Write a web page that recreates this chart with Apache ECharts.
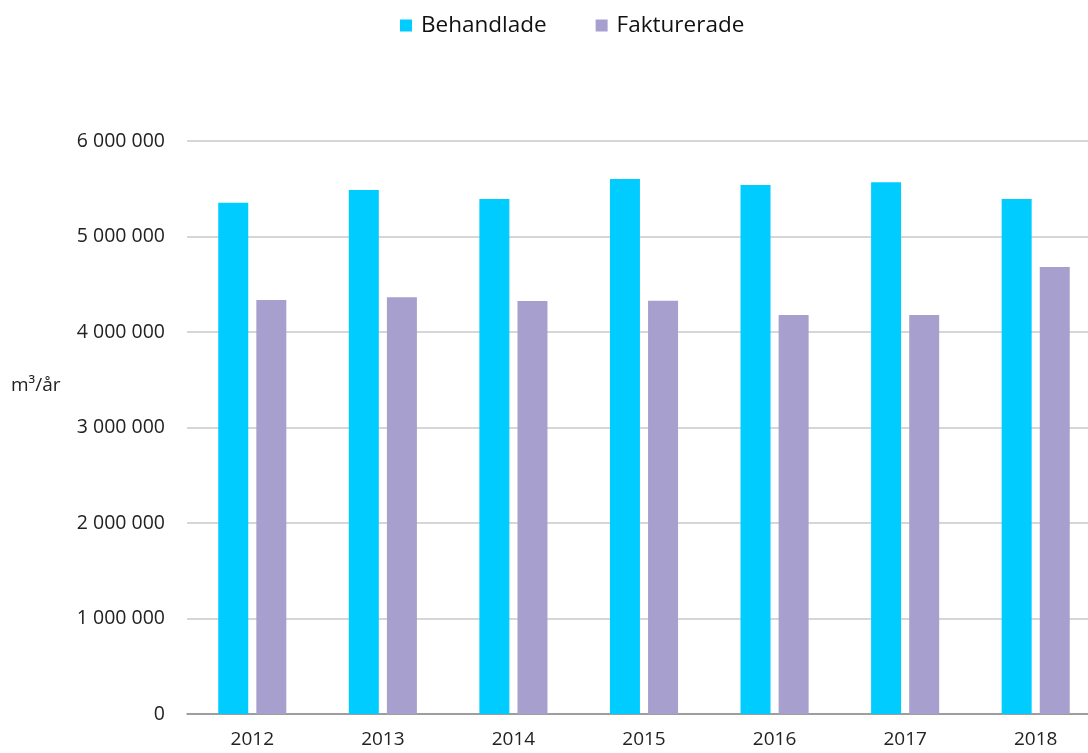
<!DOCTYPE html>
<html>
<head>
<meta charset="utf-8">
<script src="https://cdn.jsdelivr.net/npm/echarts@6/dist/echarts.min.js"></script>
<style>
  html, body { margin: 0; padding: 0; background: #fff; }
  #chart { width: 1088px; height: 753px; }
</style>
</head>
<body>
<div id="chart"></div>
<script>
// data
const years = ['2012', '2013', '2014', '2015', '2016', '2017', '2018']
const behandlade = [5354000, 5487000, 5393000, 5602000, 5539000, 5567000, 5393000]
const fakturerade = [4335000, 4363000, 4325000, 4328000, 4178000, 4178000, 4681000]
const seriesNames = ['Behandlade', 'Fakturerade']
const unitLabel = 'm³/år'

const font = '"Open Sans", "Noto Sans", sans-serif'

// 1 000 000 style thousands separator
function spaced(v) {
    return String(v).replace(/\B(?=(\d{3})+(?!\d))/g, ' ')
}

const mChart = echarts.init(document.getElementById('chart'))
mChart.setOption({
    animation: false,
    title: {
        text: unitLabel,
        left: 6,
        top: 371,
        textStyle: { fontFamily: font, fontSize: 19, fontWeight: 'normal', color: '#222' }
    },
    legend: {
        data: seriesNames,
        left: 395,
        top: 9,
        icon: 'rect',
        itemWidth: 12,
        itemHeight: 12,
        itemGap: 49,
        textStyle: { fontFamily: font, fontSize: 22.5, color: '#111', padding: [0, 0, 0, 4] }
    },
    grid: {
        left: 187,
        top: 141,
        right: -13,
        bottom: 39,
        outerBoundsMode: 'none',
        containLabel: false
    },
    xAxis: {
        type: 'category',
        data: years,
        axisTick: { show: false },
        axisLine: { lineStyle: { color: '#8c8c8c', width: 1.5 } },
        axisLabel: { fontFamily: font, fontSize: 19, color: '#222', margin: 16 }
    },
    yAxis: {
        type: 'value',
        min: 0,
        max: 6000000,
        interval: 1000000,
        axisLine: { show: false },
        axisTick: { show: false },
        splitLine: { lineStyle: { color: '#c8c8c8', width: 1.5 } },
        axisLabel: { fontFamily: font, fontSize: 19.5, color: '#222', margin: 22, formatter: spaced }
    },
    series: [{
        name: seriesNames[0],
        type: 'bar',
        data: behandlade,
        barWidth: 30,
        barGap: '27%',
        itemStyle: { color: '#00ccff' }
    }, {
        name: seriesNames[1],
        type: 'bar',
        data: fakturerade,
        barWidth: 30,
        itemStyle: { color: '#a7a0ce' }
    }]
})
</script>
</body>
</html>
